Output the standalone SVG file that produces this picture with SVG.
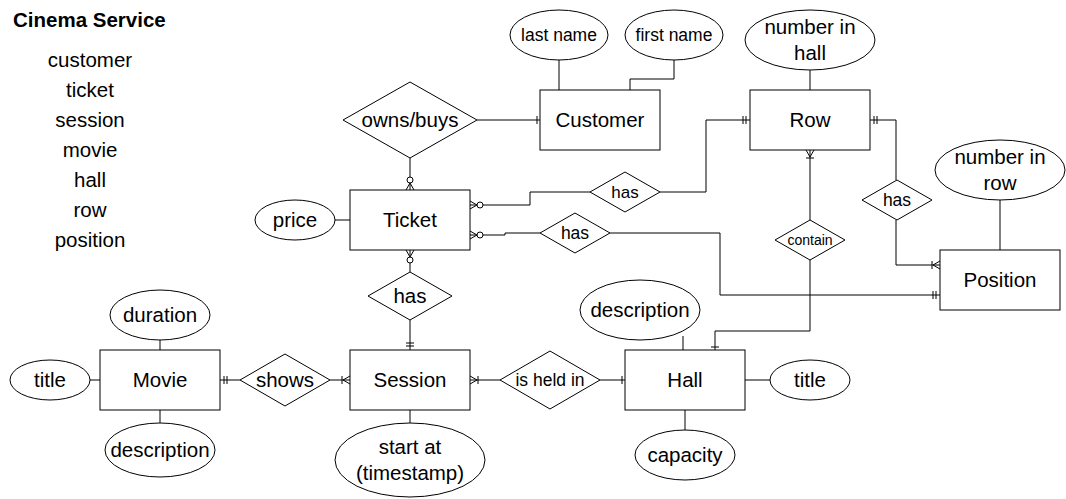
<svg xmlns="http://www.w3.org/2000/svg" width="1066" height="499" viewBox="0 0 1066 499">
<style>
text{font-family:"Liberation Sans",Arial,sans-serif;fill:#000;text-anchor:middle}
.e rect,.e ellipse,.e polygon{fill:#fff;stroke:#000;stroke-width:1}
.t20{font-size:20.5px}
.t17{font-size:17.5px}
.t16{font-size:17px}
.t14{font-size:14px}
.conn path{fill:none;stroke:#000;stroke-width:1}
.m{fill:none;stroke:#000;stroke-width:1}
</style>
<defs>
<marker id="one" markerUnits="userSpaceOnUse" viewBox="-20 -10 20 20" markerWidth="20" markerHeight="20" refX="0" refY="0" orient="auto" overflow="visible">
<path class="m" d="M-3,-4V4"/>
</marker>
<marker id="mandOne" markerUnits="userSpaceOnUse" viewBox="-20 -10 20 20" markerWidth="20" markerHeight="20" refX="0" refY="0" orient="auto" overflow="visible">
<path class="m" d="M-4,-4V4M-7,-4V4"/>
</marker>
<marker id="oneMany" markerUnits="userSpaceOnUse" viewBox="-20 -10 20 20" markerWidth="20" markerHeight="20" refX="0" refY="0" orient="auto" overflow="visible">
<path class="m" d="M0,-4L-7,0L0,4M-8,-4V4"/>
</marker>
<marker id="zeroMany" markerUnits="userSpaceOnUse" viewBox="-20 -10 20 20" markerWidth="20" markerHeight="20" refX="0" refY="0" orient="auto" overflow="visible">
<path class="m" d="M0,-4L-7,0L0,4"/>
<circle cx="-10" cy="0" r="3" fill="#fff" stroke="#000" stroke-width="1"/>
</marker>
</defs>
<rect width="1066" height="499" fill="#fff"/>

<g id="title">
<text x="13" y="27" style="text-anchor:start;font-weight:bold" class="t20">Cinema Service</text>
<text x="90" y="67" class="t20">customer</text>
<text x="90" y="97" class="t20">ticket</text>
<text x="90" y="127" class="t20">session</text>
<text x="90" y="157" class="t20">movie</text>
<text x="90" y="187" class="t20">hall</text>
<text x="90" y="217" class="t20">row</text>
<text x="90" y="247" class="t20">position</text>
</g>

<g id="connectors" class="conn">
<path d="M559,60V90"/>
<path d="M674,60V79H630V90"/>
<path d="M477,120H540" marker-end="url(#one)"/>
<path d="M410,158V190" marker-end="url(#zeroMany)"/>
<path d="M590,192H530V205H470" marker-end="url(#zeroMany)"/>
<path d="M660,192H706V120H750" marker-end="url(#mandOne)"/>
<path d="M540,233H505V235H470" marker-end="url(#zeroMany)"/>
<path d="M610,233H720V295H940" marker-end="url(#mandOne)"/>
<path d="M810,70V90"/>
<path d="M1000,200V250"/>
<path d="M896,180V120H870" marker-end="url(#mandOne)"/>
<path d="M896,220V265H940" marker-end="url(#oneMany)"/>
<path d="M810,220V150" marker-end="url(#oneMany)"/>
<path d="M810,260V331H715V350" marker-end="url(#one)"/>
<path d="M335,220H350"/>
<path d="M410,272V250" marker-end="url(#zeroMany)"/>
<path d="M410,320V350" marker-end="url(#mandOne)"/>
<path d="M240,380H220" marker-end="url(#mandOne)"/>
<path d="M330,380H350" marker-end="url(#oneMany)"/>
<path d="M500,380H470" marker-end="url(#oneMany)"/>
<path d="M600,380H625" marker-end="url(#one)"/>
<path d="M410,410V423"/>
<path d="M160,340V350"/>
<path d="M90,380H100"/>
<path d="M160,410V423"/>
<path d="M683,336V350"/>
<path d="M745,380H770"/>
<path d="M685,410V430"/>
</g>

<g id="customer" class="e"><rect x="540" y="90" width="120" height="60"/><text x="600" y="127" class="t20">Customer</text></g>
<g id="attr-last-name" class="e"><ellipse cx="559" cy="35" rx="49" ry="25"/><text x="559" y="41" class="t17">last name</text></g>
<g id="attr-first-name" class="e"><ellipse cx="674" cy="35" rx="49" ry="25"/><text x="674" y="41" class="t17">first name</text></g>
<g id="rel-owns-buys" class="e"><polygon points="343,120 410,82 477,120 410,158"/><text x="410" y="127" class="t20">owns/buys</text></g>

<g id="ticket" class="e"><rect x="350" y="190" width="120" height="60"/><text x="410" y="227" class="t20">Ticket</text></g>
<g id="attr-price" class="e"><ellipse cx="295" cy="220" rx="40" ry="20"/><text x="295" y="227" class="t20">price</text></g>
<g id="rel-has-row" class="e"><polygon points="590,192 625,172 660,192 625,212"/><text x="625" y="198" class="t16">has</text></g>
<g id="rel-has-position" class="e"><polygon points="540,233 575,213 610,233 575,253"/><text x="575" y="239" class="t17">has</text></g>

<g id="row" class="e"><rect x="750" y="90" width="120" height="60"/><text x="810" y="127" class="t20">Row</text></g>
<g id="attr-number-in-hall" class="e"><ellipse cx="810" cy="40" rx="65" ry="30"/><text x="810" y="34" class="t20">number in</text><text x="810" y="60" class="t20">hall</text></g>
<g id="rel-row-has" class="e"><polygon points="862,200 897,180 932,200 897,220"/><text x="897" y="206" class="t17">has</text></g>
<g id="rel-contain" class="e"><polygon points="775,240 810,220 845,240 810,260"/><text x="810" y="245" class="t14">contain</text></g>

<g id="position" class="e"><rect x="940" y="250" width="120" height="60"/><text x="1000" y="287" class="t20">Position</text></g>
<g id="attr-number-in-row" class="e"><ellipse cx="1000" cy="170" rx="65" ry="30"/><text x="1000" y="164" class="t20">number in</text><text x="1000" y="190" class="t20">row</text></g>

<g id="rel-has-session" class="e"><polygon points="368,296 410,272 452,296 410,320"/><text x="410" y="303" class="t20">has</text></g>

<g id="session" class="e"><rect x="350" y="350" width="120" height="60"/><text x="410" y="387" class="t20">Session</text></g>
<g id="attr-start-at" class="e"><ellipse cx="410" cy="460" rx="75" ry="37"/><text x="410" y="454" class="t20">start at</text><text x="410" y="480" class="t20">(timestamp)</text></g>
<g id="rel-shows" class="e"><polygon points="240,380 285,354 330,380 285,406"/><text x="285" y="387" class="t20">shows</text></g>
<g id="rel-is-held-in" class="e"><polygon points="500,380 550,351 600,380 550,409"/><text x="550" y="386" class="t17">is held in</text></g>

<g id="movie" class="e"><rect x="100" y="350" width="120" height="60"/><text x="160" y="387" class="t20">Movie</text></g>
<g id="attr-duration" class="e"><ellipse cx="160" cy="315" rx="50" ry="25"/><text x="160" y="322" class="t20">duration</text></g>
<g id="attr-movie-title" class="e"><ellipse cx="50" cy="380" rx="40" ry="20"/><text x="50" y="387" class="t20">title</text></g>
<g id="attr-movie-description" class="e"><ellipse cx="160" cy="450" rx="55" ry="27"/><text x="160" y="457" class="t20">description</text></g>

<g id="hall" class="e"><rect x="625" y="350" width="120" height="60"/><text x="685" y="387" class="t20">Hall</text></g>
<g id="attr-hall-description" class="e"><ellipse cx="640" cy="310" rx="60" ry="30"/><text x="640" y="317" class="t20">description</text></g>
<g id="attr-hall-title" class="e"><ellipse cx="810" cy="380" rx="40" ry="20"/><text x="810" y="387" class="t20">title</text></g>
<g id="attr-capacity" class="e"><ellipse cx="685" cy="455" rx="50" ry="25"/><text x="685" y="462" class="t20">capacity</text></g>
</svg>
